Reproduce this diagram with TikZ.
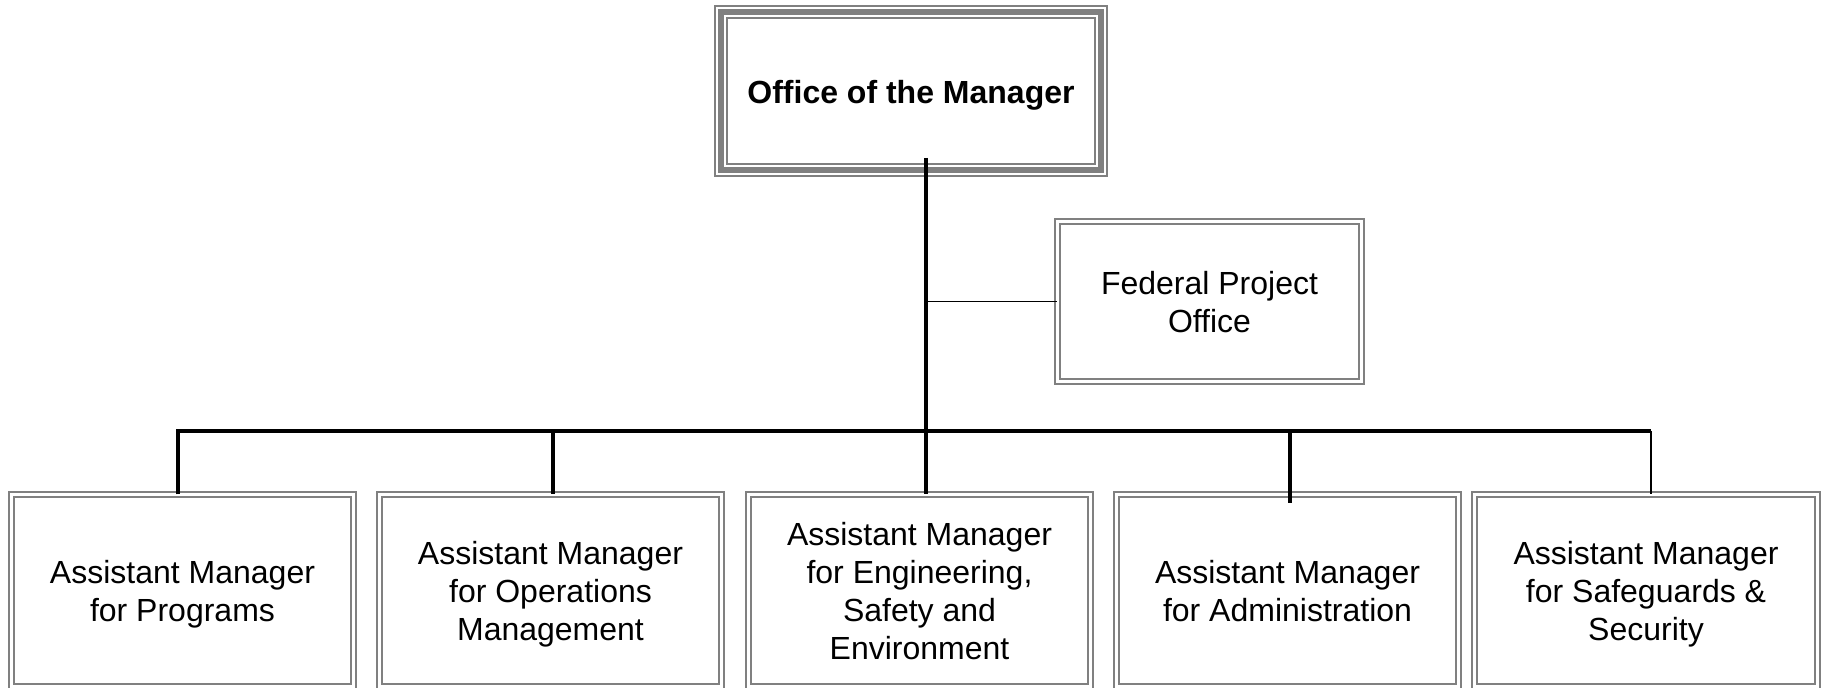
\documentclass[tikz,border=0pt]{standalone}
\usepackage{fontspec}
\setmainfont{Liberation Sans}
\usetikzlibrary{calc}
% fixed first-line height and last-line depth, so text sits like the original
\newcommand{\upstrut}{\rule{0pt}{15.75pt}}
\newcommand{\dnstrut}{\rule[-3.25pt]{0pt}{3.25pt}}
\tikzset{
  dblbox/.style={draw=gray, line width=0.85pt, double=white, double distance=1.65pt,
    inner sep=0pt, outer sep=0pt, align=center, font=\fontsize{16}{19}\selectfont},
  ambox/.style={dblbox, minimum width=171.2pt, minimum height=96.1pt},
  fedbox/.style={dblbox, minimum width=152.2pt, minimum height=80.2pt},
  topbox/.style={dblbox, line width=1pt, double distance=5pt,
    minimum width=190pt, minimum height=79pt, font=\bfseries\fontsize{16}{19}\selectfont},
  trunkline/.style={black, line width=1.75pt},
  busline/.style={black, line width=2pt}
}

\begin{document}
\begin{tikzpicture}[x=0.5pt, y=-0.5pt]
\useasboundingbox (0,0) rectangle (1824,688);

% top office
\node[topbox] (om) at (911,91) {\upstrut Office of the Manager\dnstrut};
\draw[gray, line width=3pt] (om.north west) rectangle (om.south east);

% side office
\node[fedbox] (fpo) at (1209.5,301.5) {\upstrut Federal Project\\Office\dnstrut};

% assistant managers
\foreach \cx/\txt [count=\i] in {182.5/{Assistant Manager\\for Programs},
    550.5/{Assistant Manager\\for Operations\\Management},
    919.5/{Assistant Manager\\for Engineering,\\Safety and\\Environment},
    1287.5/{Assistant Manager\\for Administration},
    1646/{Assistant Manager\\for Safeguards \&\\Security}} {
  \node[ambox] (am\i) at (\cx,590.5) {\upstrut\txt\dnstrut};
}

\coordinate (trunk) at (926,158);
\coordinate (bus) at (0,431);
\coordinate (d1) at ($(am1.north)+(-4.5,0)$);
\coordinate (d2) at ($(am2.north)+(2.5,0)$);
\coordinate (d4) at ($(am4.north)+(2.5,9)$);
\coordinate (d5) at ($(am5.north)+(5,0)$);

\draw[trunkline] (trunk) -- (trunk |- am3.north);
\draw[black, line width=0.75pt] (trunk |- fpo.west) -- (fpo.west);
\draw[busline, line join=miter] (d1) |- (d5 |- bus);
\draw[trunkline] (d2 |- bus) -- (d2);
\draw[trunkline] (d4 |- bus) -- (d4);
\draw[black, line width=0.9pt] (d5 |- bus) -- (d5);
\end{tikzpicture}
\end{document}
